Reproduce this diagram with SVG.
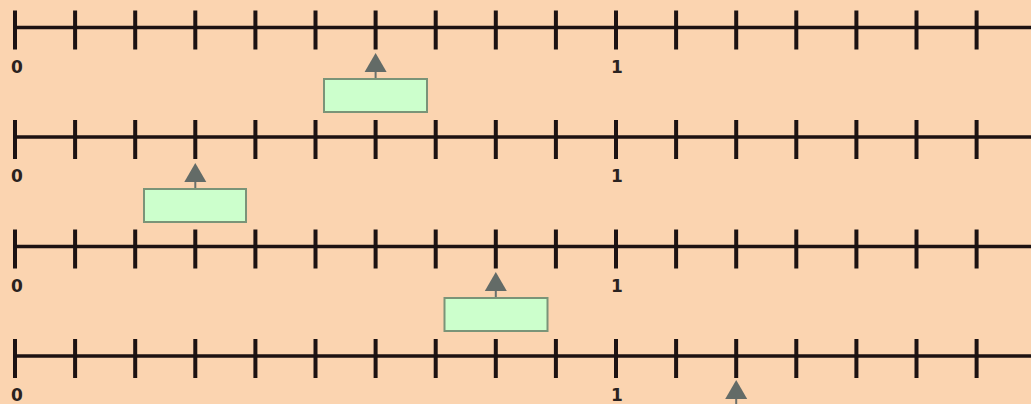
<svg xmlns="http://www.w3.org/2000/svg" xmlns:xlink="http://www.w3.org/1999/xlink" width="1031" height="404" viewBox="0 0 1031 404">
<style>
.axis{stroke:#1c1212;stroke-width:3.5;fill:none}
.tick{stroke:#1c1212;stroke-width:4;fill:none}
.lbl{font-family:"DejaVu Sans",sans-serif;font-weight:bold;font-size:17px;fill:#2a2220;text-anchor:middle}
.box{fill:#ccffcc;stroke:#7a9478;stroke-width:2}
.stem{stroke:#6a706c;stroke-width:2}
.head{fill:#636b67}
</style>
<defs>
<g id="numline">
<line class="axis" x1="15" y1="0" x2="1031" y2="0"/>
<path class="tick" d="M15,-17V22M75.1,-17V22M135.2,-17V22M195.3,-17V22M255.4,-17V22M315.5,-17V22M375.6,-17V22M435.7,-17V22M495.8,-17V22M555.9,-17V22M616,-17V22M676.1,-17V22M736.2,-17V22M796.3,-17V22M856.4,-17V22M916.5,-17V22M976.6,-17V22"/>
<text class="lbl" x="17" y="45">0</text>
<text class="lbl" x="617" y="45">1</text>
</g>
<g id="pointer">
<line class="stem" x1="0" y1="14" x2="0" y2="26"/>
<path class="head" d="M0,0L11,19H-11Z"/>
</g>
</defs>
<rect width="1031" height="404" fill="#fbd4b0"/>
<g id="line1"><use xlink:href="#numline" transform="translate(0,27.5)"/></g>
<g id="line2"><use xlink:href="#numline" transform="translate(0,137)"/></g>
<g id="line3"><use xlink:href="#numline" transform="translate(0,246.5)"/></g>
<g id="line4"><use xlink:href="#numline" transform="translate(0,356)"/></g>
<g id="connectors">
<use xlink:href="#pointer" transform="translate(375.6,53)"/>
<use xlink:href="#pointer" transform="translate(195.3,163)"/>
<use xlink:href="#pointer" transform="translate(495.8,272)"/>
<use xlink:href="#pointer" transform="translate(736.2,380)"/>
</g>
<g id="box1"><rect class="box" x="324" y="79" width="103" height="33"/></g>
<g id="box2"><rect class="box" x="144" y="189" width="102" height="33"/></g>
<g id="box3"><rect class="box" x="444.5" y="298" width="103" height="33"/></g>
</svg>
